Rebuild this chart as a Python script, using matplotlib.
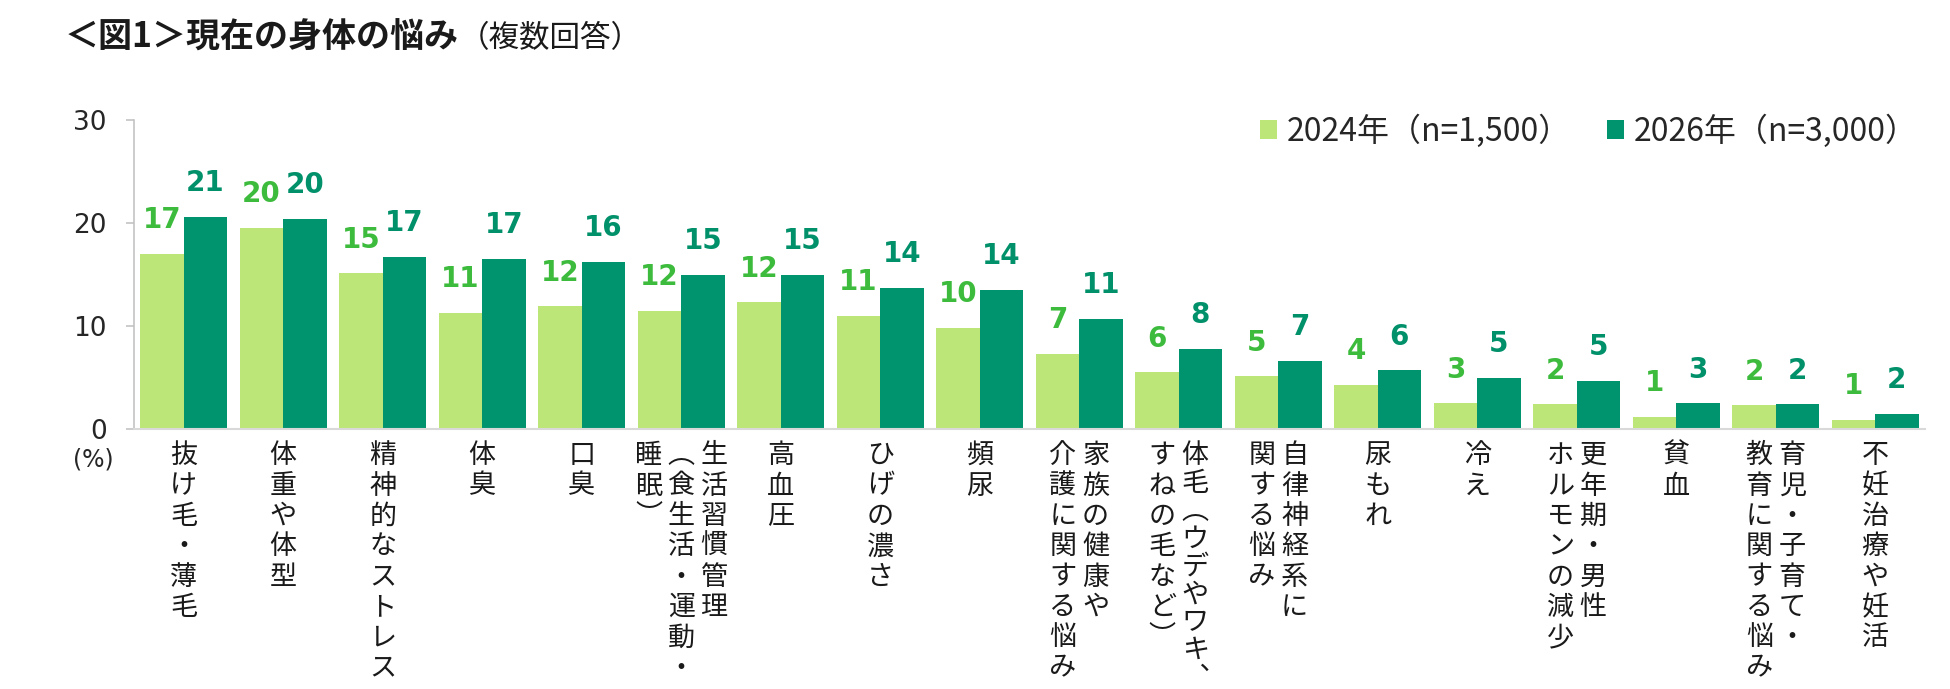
import matplotlib
matplotlib.use('Agg')
import matplotlib.pyplot as plt
from matplotlib.patches import Patch
import numpy as np

# data (%)
categories = [
    ['抜け毛・薄毛'],
    ['体重や体型'],
    ['精神的なストレス'],
    ['体臭'],
    ['口臭'],
    ['生活習慣管理', '（食生活・運動・', '睡眠）'],
    ['高血圧'],
    ['ひげの濃さ'],
    ['頻尿'],
    ['家族の健康や', '介護に関する悩み'],
    ['体毛（ウデやワキ、', 'すねの毛など）'],
    ['自律神経系に', '関する悩み'],
    ['尿もれ'],
    ['冷え'],
    ['更年期・男性', 'ホルモンの減少'],
    ['貧血'],
    ['育児・子育て・', '教育に関する悩み'],
    ['不妊治療や妊活'],
]
values_2024 = [17.0, 19.5, 15.1, 11.3, 11.9, 11.5, 12.3, 11.0, 9.8, 7.3,
               5.5, 5.1, 4.3, 2.5, 2.4, 1.2, 2.3, 0.9]
values_2026 = [20.6, 20.4, 16.7, 16.5, 16.2, 15.0, 15.0, 13.7, 13.5, 10.7,
               7.8, 6.6, 5.7, 5.0, 4.7, 2.5, 2.4, 1.5]
labels_2024 = [17, 20, 15, 11, 12, 12, 12, 11, 10, 7, 6, 5, 4, 3, 2, 1, 2, 1]
labels_2026 = [21, 20, 17, 17, 16, 15, 15, 14, 14, 11, 8, 7, 6, 5, 5, 3, 2, 2]
series_names = ['2024年（n=1,500）', '2026年（n=3,000）']
y_ticks = [0, 10, 20, 30]

title_main = '＜図1＞現在の身体の悩み'
title_sub = '（複数回答）'

LIGHT = '#bce678'
DARK = '#00946e'
LIGHT_TXT = '#3dbb3d'
DARK_TXT = '#00906a'
GRID = '#bfbfbf'
JP = ['Noto Sans CJK JP', 'DejaVu Sans']

# vertical writing forms for brackets / comma
VERT = str.maketrans({'（': '\ufe35', '）': '\ufe36', '、': '\ufe11'})

W, H = 1950, 689
fig = plt.figure(figsize=(W / 100, H / 100), dpi=100)
ax = fig.add_axes([134 / W, (H - 429) / H, (1925 - 134) / W, (429 - 120) / H])

x = np.arange(len(categories))
bw = 0.435
ax.bar(x - bw / 2, values_2024, bw, color=LIGHT, linewidth=0)
ax.bar(x + bw / 2, values_2026, bw, color=DARK, linewidth=0)

for i in range(len(categories)):
    ax.annotate(str(labels_2024[i]), (x[i] - bw / 2, values_2024[i]),
                xytext=(0, 18.5), textcoords='offset points', ha='center',
                va='baseline', fontsize=20, fontweight='bold', color=LIGHT_TXT)
    ax.annotate(str(labels_2026[i]), (x[i] + bw / 2, values_2026[i]),
                xytext=(0, 18.5), textcoords='offset points', ha='center',
                va='baseline', fontsize=20, fontweight='bold', color=DARK_TXT)

# category labels, written top-to-bottom, columns right-to-left
col_gap = 0.33
for i, cols in enumerate(categories):
    n = len(cols)
    for j, col in enumerate(cols):
        cx = i + ((n - 1) / 2 - j) * col_gap
        ls = 1.16 if len(col) <= 8 else 1.04
        ax.annotate('\n'.join(col.translate(VERT)), (cx, 0),
                    xytext=(0, -9.5), textcoords='offset points',
                    ha='center', va='top', fontsize=19.5, linespacing=ls,
                    family=JP, color='#1a1a1a', annotation_clip=False)

ax.set_xlim(-0.5, len(categories) - 0.5)
ax.set_ylim(0, 30)
ax.set_yticks(y_ticks)
ax.tick_params(axis='y', length=5.8, width=1.1, color=GRID, pad=14,
               labelsize=19, labelcolor='#262626')
ax.tick_params(axis='x', bottom=False, labelbottom=False)
for s in ['top', 'right']:
    ax.spines[s].set_visible(False)
ax.spines['left'].set_color(GRID)
ax.spines['left'].set_linewidth(1.1)
ax.spines['bottom'].set_color('#d9d9d9')
ax.spines['bottom'].set_linewidth(1.5)

fig.text(93 / W, 1 - 460 / H, '(%)', ha='center', va='center', fontsize=17,
         color='#262626')

t1 = fig.text(65 / W, 1 - 37 / H, title_main, fontsize=24.5, fontweight='bold',
              family=JP, ha='left', va='center', color='#1a1a1a')
ax.annotate(title_sub, xy=(1, 0), xycoords=t1, ha='left', va='bottom',
            fontsize=22, family=JP, color='#1a1a1a', annotation_clip=False)

handles = [Patch(facecolor=LIGHT, edgecolor='none'),
           Patch(facecolor=DARK, edgecolor='none')]
leg = fig.legend(handles, series_names, loc='center left',
                 bbox_to_anchor=(1260 / W, 1 - 131 / H), ncol=2, frameon=False,
                 prop={'family': JP, 'size': 23}, handlelength=0.53,
                 handleheight=0.53, handletextpad=0.31, columnspacing=1.12,
                 borderpad=0, borderaxespad=0)
for t in leg.get_texts():
    t.set_color('#262626')

fig.savefig('out.png', dpi=100)
